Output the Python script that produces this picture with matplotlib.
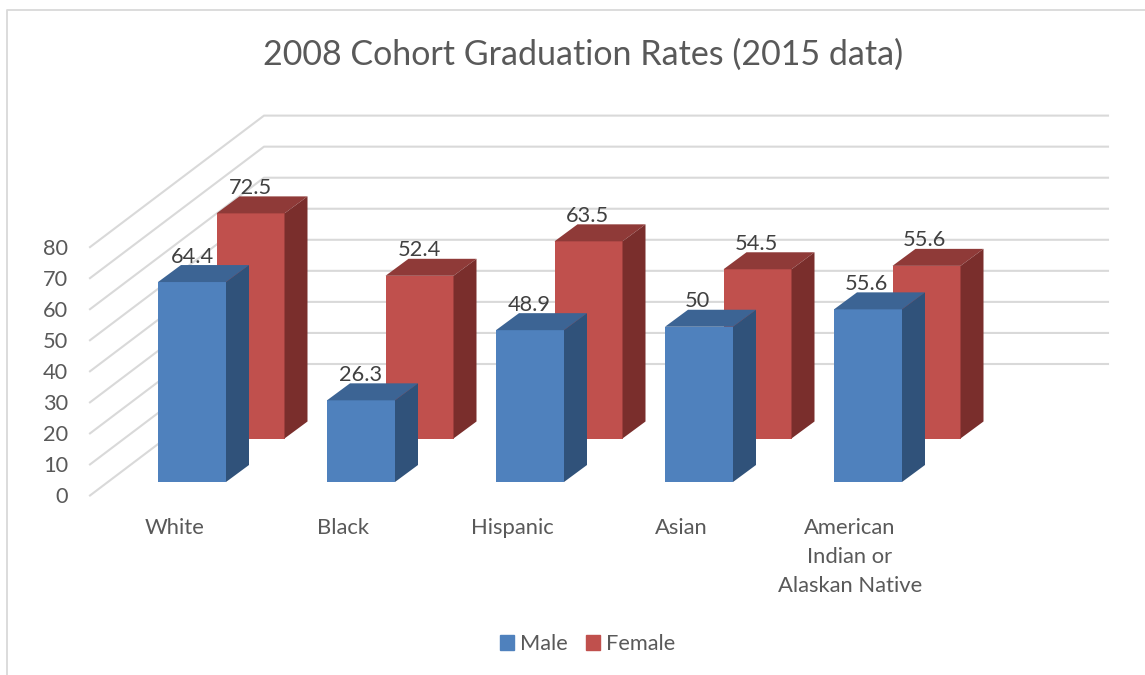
import matplotlib
matplotlib.use("Agg")
import matplotlib.pyplot as plt
from matplotlib.patches import Patch

categories = ["White", "Black", "Hispanic", "Asian", "American\nIndian or\nAlaskan Native"]
male = [64.4, 26.3, 48.9, 50, 55.6]
female = [72.5, 52.4, 63.5, 54.5, 55.6]
ticks = [0, 10, 20, 30, 40, 50, 60, 70, 80]

plt.rcParams["font.family"] = ["Lato", "DejaVu Sans"]

# oblique view, all in pixels of the 1145x675 picture
px_per_unit = 3.105
bar_w = 68
bar_step = 169
label_step = 168.6
depth_x, depth_y = 23, -17
male_x, male_base = 158, 482
female_x, female_base = 216.5, 438.5


def val_y(base, value):
    return base - value * px_per_unit


def draw_bar(ax, i, first, base, value, front, top, side):
    left = first + i * bar_step
    y = val_y(base, value)
    right = left + bar_w
    ax.fill([left, right, right, left], [base, base, y, y], color=front, lw=0, zorder=3)
    ax.fill([left, right, right + depth_x, left + depth_x],
            [y, y, y + depth_y, y + depth_y], color=top, lw=0, zorder=3)
    ax.fill([right, right + depth_x, right + depth_x, right],
            [base, base + depth_y, y + depth_y, y], color=side, lw=0, zorder=3)
    ax.text(first + bar_w / 2 + i * label_step, y - 25.5, f"{value:g}", ha="center", va="center",
            fontsize=15.7, color="#404040", zorder=5)


fig = plt.figure(figsize=(11.45, 6.75), dpi=100)
ax = fig.add_axes([0, 0, 1, 1])
ax.set_xlim(0, 1145)
ax.set_ylim(675, 0)
ax.axis("off")

# chart border, only left and top are in the crop
ax.plot([7, 7, 1145], [675, 10, 10], color="#D9D9D9", lw=1.3, zorder=1)

# gridlines on side wall and back wall
for t in ticks:
    y_front = val_y(495.5, t)
    y_back = val_y(364, t)
    ax.plot([90, 264, 1108], [y_front, y_back, y_back], color="#D9D9D9", lw=1.5, zorder=1)
    ax.text(68, y_front + 1.5, str(t), ha="right", va="center", fontsize=15.7, color="#595959")

# back row first so the male bars sit in front
for i, v in enumerate(female):
    draw_bar(ax, i, female_x, female_base, v, "#C0504D", "#8F3A38", "#7A2E2C")
for i, v in enumerate(male):
    draw_bar(ax, i, male_x, male_base, v, "#4F81BD", "#3C6494", "#30527A")

for i, c in enumerate(categories):
    ax.text(175 + i * bar_step - (1 if i else 0), 518, c, ha="center", va="top", fontsize=15.8,
            color="#595959", linespacing=1.55)

ax.text(583, 55, "2008 Cohort Graduation Rates (2015 data)", ha="center", va="center",
        fontsize=24.5, color="#595959")

handles = [Patch(color="#4F81BD", label="Male"), Patch(color="#C0504D", label="Female")]
ax.legend(handles=handles, loc="center", bbox_to_anchor=(587.5, 644),
          bbox_transform=ax.transData, ncols=2, frameon=False, fontsize=15.7,
          labelcolor="#595959", handlelength=0.65, handleheight=0.65,
          handletextpad=0.25, columnspacing=0.85, borderpad=0)

fig.savefig("out.png", dpi=100)
